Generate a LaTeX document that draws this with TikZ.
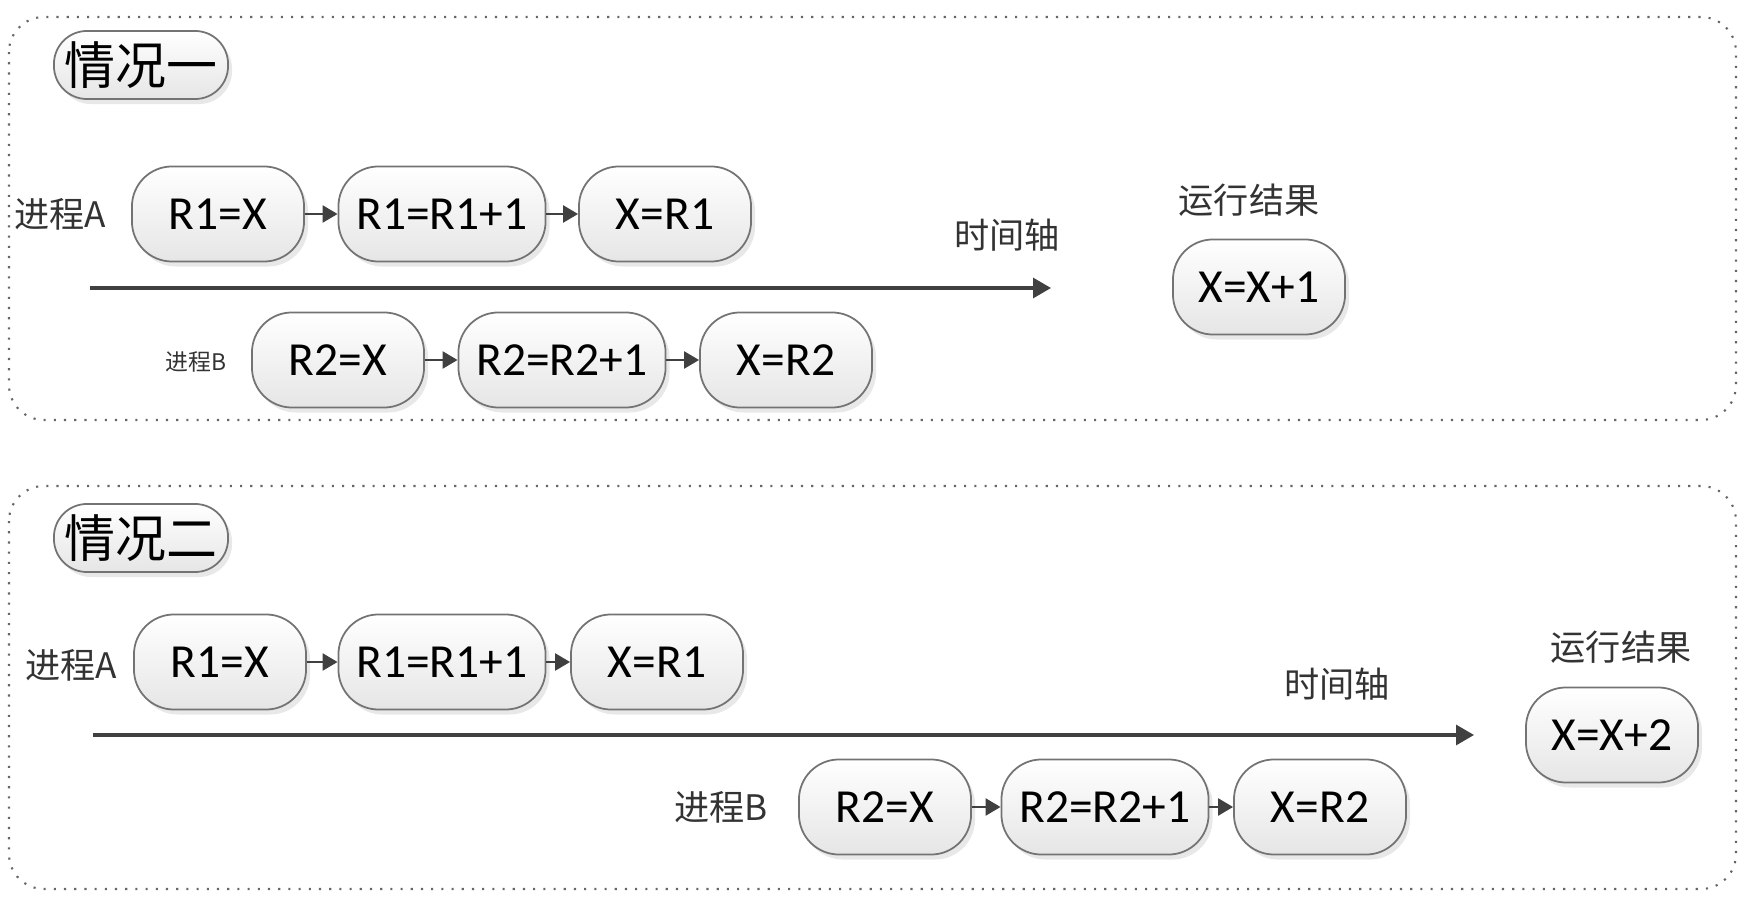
\documentclass[tikz,border=0pt]{standalone}
\usepackage{fontspec}
\setmainfont{Carlito}
\newfontfamily\cjk{Noto Sans CJK SC}
\usetikzlibrary{arrows.meta,shadows}

\tikzset{
  stepbox/.style={draw=black!55, line width=0.5pt, rounded corners=0.4cm,
    minimum width=1.72cm, minimum height=0.95cm, inner sep=0pt,
    top color=white, bottom color=black!10,
    drop shadow={opacity=0.18, shadow xshift=0.04cm, shadow yshift=-0.05cm},
    font=\fontsize{13.5}{16}\selectfont},
  widebox/.style={stepbox, minimum width=2.07cm},
  casetag/.style={stepbox, minimum width=1.74cm, minimum height=0.68cm,
    rounded corners=0.33cm, font=\cjk\fontsize{14.5}{17}\selectfont},
  casebox/.style={draw=black!60, line width=0.6pt, dash pattern=on 0.6pt off 2.3pt,
    rounded corners=0.35cm},
  label/.style={font=\cjk\fontsize{10}{12}\selectfont, text=black!80},
  link/.style={draw=black!75, line width=0.7pt, -{Triangle[length=0.15cm,width=0.17cm]}},
  timeline/.style={draw=black!75, line width=0.9pt, -{Triangle[length=0.18cm,width=0.2cm]}},
}

\begin{document}
\begin{tikzpicture}[x=0.01cm,y=-0.01cm]
  \useasboundingbox (0,0) rectangle (1758,922);

  % Case 1: B starts before A writes back -> X=X+1
  \draw[casebox] (9,17) rectangle (1736,420);
  \node[casetag] (t1) at (141,65) {情况一};

  \node[label] (pa1) at (60,214) {进程A};
  \node[stepbox] (a1) at (218,214) {R1=X};
  \node[widebox] (a2) at (442,214) {R1=R1+1};
  \node[stepbox] (a3) at (665,214) {X=R1};
  \draw[link] (a1) -- (a2);
  \draw[link] (a2) -- (a3);

  \coordinate (s1) at (90,288);
  \coordinate (e1) at (1051,288);
  \draw[timeline] (s1) -- (e1);
  \node[label] (ax1) at (1007,235) {时间轴};

  \node[label, font=\cjk\fontsize{6.5}{8}\selectfont] (pb1) at (196,362) {进程B};
  \node[stepbox] (b1) at (338,360) {R2=X};
  \node[widebox] (b2) at (562,360) {R2=R2+1};
  \node[stepbox] (b3) at (786,360) {X=R2};
  \draw[link] (b1) -- (b2);
  \draw[link] (b2) -- (b3);

  \node[label] (res1) at (1249,200) {运行结果};
  \node[stepbox] (r1) at (1259,287) {X=X+1};

  % Case 2: B starts after A is done -> X=X+2
  \draw[casebox] (9,486) rectangle (1736,889);
  \node[casetag] (t2) at (141,538) {情况二};

  \node[label] (pa2) at (71,665) {进程A};
  \node[stepbox] (c1) at (220,662) {R1=X};
  \node[widebox] (c2) at (442,662) {R1=R1+1};
  \node[stepbox] (c3) at (657,662) {X=R1};
  \draw[link] (c1) -- (c2);
  \draw[link] (c2) -- (c3);

  \coordinate (s2) at (93,735);
  \coordinate (e2) at (1474,735);
  \draw[timeline] (s2) -- (e2);
  \node[label] (ax2) at (1337,684) {时间轴};

  \node[label] (pb2) at (721,807) {进程B};
  \node[stepbox] (d1) at (885,807) {R2=X};
  \node[widebox] (d2) at (1105,807) {R2=R2+1};
  \node[stepbox] (d3) at (1320,807) {X=R2};
  \draw[link] (d1) -- (d2);
  \draw[link] (d2) -- (d3);

  \node[label] (res2) at (1621,647) {运行结果};
  \node[stepbox] (r2) at (1612,735) {X=X+2};
\end{tikzpicture}
\end{document}
